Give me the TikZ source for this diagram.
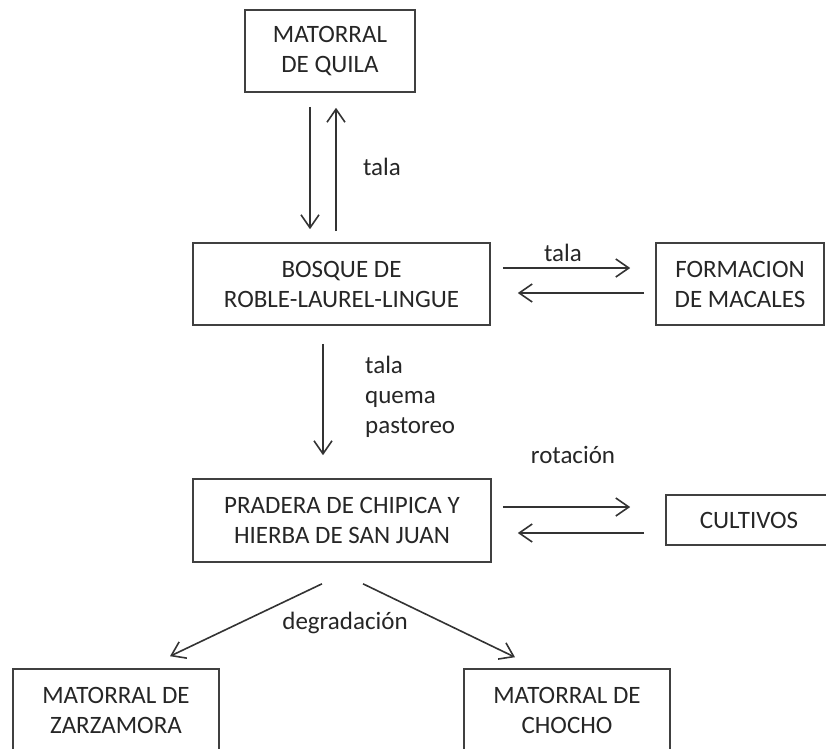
\documentclass[tikz,border=0pt]{standalone}
\usepackage{fontspec}
\setmainfont{Carlito}
\usetikzlibrary{arrows.meta, positioning}

\begin{document}
\begin{tikzpicture}[x=1pt, y=-1pt,
    box/.style={rectangle, draw=black!75, line width=1.6pt, align=center, text=black!85, font=\fontsize{25}{30}\selectfont, inner sep=0pt},
    arrow/.style={-{Straight Barb[length=13pt, width=18pt, line width=1.6pt]}, line width=1.6pt, draw=black!80},
    lbl/.style={text=black!85, font=\fontsize{25}{30}\selectfont, inner sep=0pt}
]
\useasboundingbox (0,0) rectangle (826,748);
\node[box, minimum width=170pt, minimum height=82pt] (quila) at (330,51) {MATORRAL\\DE QUILA};
\node[box, minimum width=297pt, minimum height=82pt] (bosque) at (341.5,284) {BOSQUE DE\\ROBLE-LAUREL-LINGUE};
\node[box, minimum width=168pt, minimum height=82pt] (macal) at (740,284) {FORMACION\\DE MACALES};
\node[box, minimum width=298pt, minimum height=83pt] (pradera) at (342,520.5) {PRADERA DE CHIPICA Y\\HIERBA DE SAN JUAN};
\node[box, minimum width=166pt, minimum height=50pt] (cultivo) at (749,520) {CULTIVOS};
\node[box, minimum width=206pt, minimum height=83pt] (zarza) at (116,710.5) {MATORRAL DE\\ZARZAMORA};
\node[box, minimum width=206pt, minimum height=83pt] (chocho) at (567,710.5) {MATORRAL DE\\CHOCHO};

% quila <-> bosque
\draw[arrow, shorten <=14pt, shorten >=13pt] ([xshift=-20pt]quila.south) -- ([xshift=-20pt]quila.south |- bosque.north);
\draw[arrow, shorten <=11pt, shorten >=15pt] ([xshift=6pt]quila.south |- bosque.north) -- ([xshift=6pt]quila.south);
\node[lbl] (tala1) at (382,167) {tala};

% bosque <-> macales
\draw[arrow, shorten <=12pt, shorten >=25pt] ([yshift=16pt]bosque.east) -- ([yshift=16pt]bosque.east -| macal.west);
\draw[arrow, shorten <=11pt, shorten >=27pt] ([yshift=-9pt]bosque.east -| macal.west) -- ([yshift=-9pt]bosque.east);
\node[lbl] (tala2) at (563,253) {tala};

% bosque -> pradera
\draw[arrow, shorten <=18pt, shorten >=23pt] ([xshift=-18.5pt]bosque.south) -- ([xshift=-18.5pt]bosque.south |- pradera.north);
\node[lbl, align=left, anchor=west] (causas) at (365,397) {tala\\quema\\pastoreo};

% pradera <-> cultivos
\draw[arrow, shorten <=11pt, shorten >=35pt] ([yshift=13.5pt]pradera.east) -- ([yshift=13.5pt]pradera.east -| cultivo.west);
\draw[arrow, shorten <=21pt, shorten >=26pt] ([yshift=-12.5pt]pradera.east -| cultivo.west) -- ([yshift=-12.5pt]pradera.east);
\node[lbl] (rotacion) at (573,455) {rotación};

% degradacion
\draw[arrow] ([xshift=-20pt, yshift=-21pt]pradera.south) -- ([xshift=54pt, yshift=12pt]zarza.north);
\draw[arrow] ([xshift=21pt, yshift=-21pt]pradera.south) -- ([xshift=-52pt, yshift=11pt]chocho.north);
\node[lbl] (degrada) at (345,623) {degradación};
\end{tikzpicture}
\end{document}
